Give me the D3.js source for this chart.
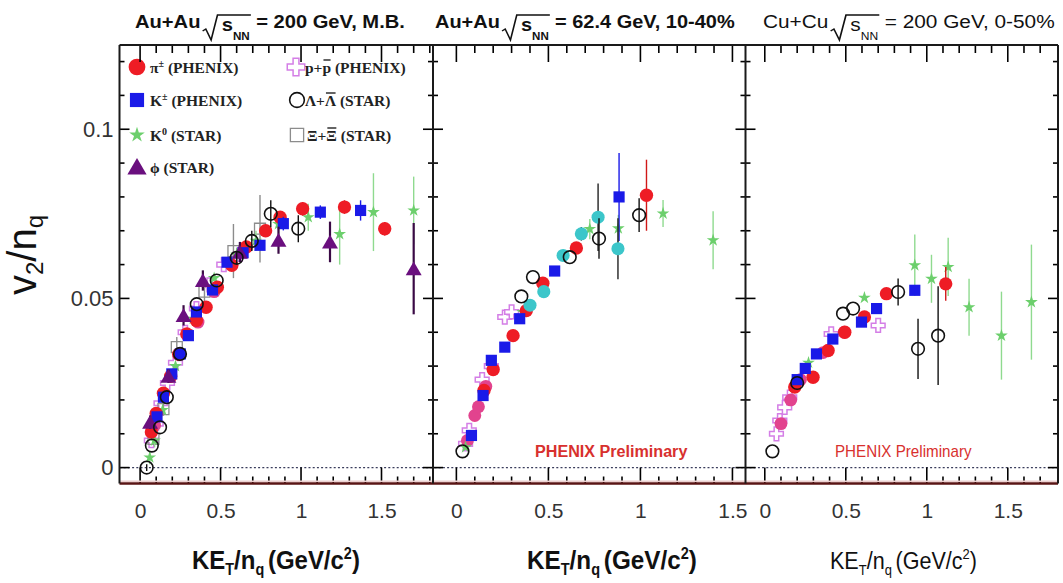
<!DOCTYPE html>
<html><head><meta charset="utf-8">
<script src="https://cdn.jsdelivr.net/npm/d3@7"></script>
<style>body{margin:0;background:#fff} svg{display:block}</style>
</head><body>
<svg id="c" width="1063" height="583"></svg>
<script>
// ---------------- DATA ([KE_T/n_q, v2/n_q, error]) ----------------
const xTickLabels = [0, 0.5, 1, 1.5];
const yTickLabels = [0, 0.05, 0.1];
const panelTitles = [
  ["Au+Au", "= 200 GeV, M.B."],
  ["Au+Au", "= 62.4 GeV, 10-40%"],
  ["Cu+Cu", "= 200 GeV, 0-50%"]
];
const prelimText = "PHENIX Preliminary";

// Panel 1: Au+Au 200 GeV M.B.
const au200Pi = [[0.07,0.0105,0],[0.10,0.016,0],[0.145,0.022,0],[0.19,0.027,0],[0.24,0.0335,0],[0.29,0.0395,0],[0.35,0.0435,0],[0.41,0.0474,0],[0.48,0.0533,0],[0.57,0.0598,0],[0.66,0.0652,0],[0.78,0.070,0],[0.87,0.074,0],[1.01,0.0765,0.002],[1.27,0.077,0.002],[1.52,0.0706,0.002]];
const au200K = [[0.105,0.015,0],[0.145,0.0208,0],[0.197,0.0277,0],[0.25,0.0336,0],[0.30,0.039,0],[0.35,0.046,0],[0.45,0.0525,0],[0.54,0.0607,0],[0.64,0.0635,0],[0.745,0.0657,0],[0.89,0.0721,0.002],[1.12,0.0755,0.002],[1.37,0.076,0.003]];
const au200K0 = [[0.06,0.003,0.002],[0.09,0.008,0.002],[0.14,0.017,0],[0.22,0.030,0],[0.33,0.044,0],[0.46,0.056,0],[0.60,0.063,0.002],[0.72,0.067,0.003],[0.86,0.072,0.003],[1.045,0.074,0.004],[1.24,0.069,0.009],[1.45,0.0755,0.0115],[1.70,0.076,0.010]];
const au200Phi = [[0.062,0.0134,0.002],[0.176,0.027,0.002],[0.27,0.045,0.003],[0.39,0.0553,0.003],[0.62,0.0637,0.003],[0.86,0.0672,0.004],[1.18,0.0667,0.006],[1.70,0.0588,0.0135]];
const au200Lam = [[0.041,0.0,0.001],[0.073,0.0065,0],[0.124,0.0119,0],[0.166,0.0208,0],[0.248,0.0336,0],[0.352,0.0483,0],[0.476,0.0553,0],[0.60,0.062,0.002],[0.694,0.067,0.003],[0.812,0.075,0.004],[0.983,0.0706,0.004]];
const au200Xi = [[0.083,0.0085,0],[0.145,0.0173,0.002],[0.228,0.0356,0.003],[0.40,0.052,0.004],[0.58,0.064,0.008],[0.745,0.0706,0.01]];
const au200P = [[0.07,0.008,0],[0.10,0.013,0],[0.13,0.019,0],[0.17,0.025,0],[0.22,0.031,0],[0.28,0.040,0],[0.35,0.047,0],[0.43,0.054,0],[0.52,0.060,0],[0.62,0.063,0]];
const au200Pink = [[0.09,0.0125,0],[0.36,0.043,0],[0.46,0.052,0]];

// Panel 2: Au+Au 62.4 GeV 10-40%
const au62Pi = [[0.15,0.0228,0],[0.20,0.029,0],[0.308,0.039,0],[0.38,0.0464,0],[0.47,0.0545,0],[0.652,0.0649,0],[1.033,0.0805,0.0105]];
const au62K = [[0.082,0.0095,0],[0.145,0.0213,0],[0.19,0.0317,0],[0.263,0.0356,0],[0.344,0.044,0],[0.534,0.0581,0],[0.884,0.080,0.013]];
const au62K0 = [[0.05,0.006,0],[0.36,0.046,0],[0.725,0.0705,0.003],[0.88,0.0707,0.004],[1.123,0.0751,0.004],[1.395,0.0672,0.0086]];
const au62Lam = [[0.033,0.0048,0],[0.353,0.0506,0],[0.416,0.0563,0],[0.616,0.0622,0],[0.775,0.0677,0.006],[0.993,0.0746,0.005]];
const au62Cyan = [[0.40,0.048,0],[0.475,0.052,0],[0.58,0.0627,0],[0.679,0.0691,0.002],[0.77,0.074,0.01],[0.878,0.0647,0.009]];
const au62Pink = [[0.06,0.008,0],[0.10,0.0154,0],[0.12,0.018,0],[0.16,0.024,0]];
const au62P = [[0.05,0.007,0],[0.07,0.011,0],[0.14,0.026,0],[0.19,0.030,0],[0.263,0.0445,0],[0.30,0.046,0]];

// Panel 3: Cu+Cu 200 GeV 0-50%
const cuPi = [[0.185,0.0238,0],[0.298,0.0267,0],[0.391,0.0346,0],[0.494,0.040,0],[0.615,0.0445,0],[0.751,0.0514,0],[1.117,0.0543,0.005]];
const cuK = [[0.20,0.026,0],[0.25,0.0293,0],[0.319,0.0336,0],[0.42,0.038,0],[0.597,0.043,0],[0.69,0.047,0],[0.926,0.0524,0]];
const cuK0 = [[0.27,0.031,0],[0.615,0.0502,0],[0.926,0.0598,0.0091],[1.029,0.0558,0.0071],[1.132,0.0593,0.0086],[1.261,0.0474,0.0084],[1.461,0.039,0.013],[1.646,0.0489,0.017]];
const cuLam = [[0.047,0.0048,0],[0.20,0.025,0],[0.483,0.0455,0],[0.545,0.047,0],[0.823,0.0519,0.004],[0.946,0.0351,0.0089],[1.07,0.039,0.0146]];
const cuP = [[0.072,0.010,0],[0.093,0.0139,0],[0.123,0.0178,0],[0.154,0.0208,0],[0.41,0.0395,0],[0.70,0.042,0]];
const cuPink = [[0.10,0.013,0],[0.16,0.020,0],[0.22,0.026,0],[0.36,0.034,0],[0.49,0.040,0]];

// ---------------- STYLES ----------------
const species = {
  p:    {sym: d3.symbolCross,    size: 105, fill: "#fff",    stroke: "#d47ee6", sw: 1.5, err: "#d47ee6"},
  xi:   {sym: d3.symbolSquare,   size: 120, fill: "none",    stroke: "#8c8c8c", sw: 1.3, err: "#8c8c8c"},
  pink: {sym: d3.symbolCircle,   size: 130, fill: "#e2438e", stroke: "none",    sw: 0,   err: "#e2438e"},
  K0:   {sym: d3.symbolStar,     size: 50,  fill: "#6ccf6c", stroke: "none",    sw: 0,   err: "#8fda8f"},
  pi:   {sym: d3.symbolCircle,   size: 140, fill: "#ee1c25", stroke: "none",    sw: 0,   err: "#d01818"},
  K:    {sym: d3.symbolSquare,   size: 125, fill: "#1a1ae8", stroke: "none",    sw: 0,   err: "#1a1ae8"},
  cyan: {sym: d3.symbolCircle,   size: 135, fill: "#3cc6ca", stroke: "none",    sw: 0,   err: "#222"},
  phi:  {sym: d3.symbolTriangle, size: 110, fill: "#6a0f7e", stroke: "none",    sw: 0,   err: "#3a0a45"},
  lam:  {sym: d3.symbolCircle,   size: 125, fill: "none",    stroke: "#111",    sw: 1.6, err: "#111"}
};
const drawOrder = ["p","xi","pink","K0","pi","K","cyan","phi","lam"];

const panels = [
  {left: 119.5, right: 433, xmin: -0.128, xmax: 1.82,
   data: {pi: au200Pi, K: au200K, K0: au200K0, phi: au200Phi, lam: au200Lam, xi: au200Xi, p: au200P, pink: au200Pink},
   titleX: 135, titleW: 270, bold: true, xl: {x: 192, w: 168, bold: true}, prelim: null},
  {left: 433, right: 745.5, xmin: -0.127, xmax: 1.571,
   data: {pi: au62Pi, K: au62K, K0: au62K0, lam: au62Lam, cyan: au62Cyan, pink: au62Pink, p: au62P},
   titleX: 435, titleW: 300, bold: true, xl: {x: 527, w: 170, bold: true}, prelim: {x: 535, w: 153, bold: true}},
  {left: 745.5, right: 1058, xmin: -0.119, xmax: 1.81,
   data: {pi: cuPi, K: cuK, K0: cuK0, lam: cuLam, p: cuP, pink: cuPink},
   titleX: 763, titleW: 292, bold: false, xl: {x: 830, w: 147, bold: false}, prelim: {x: 835, w: 137, bold: false}}
];

const TOP = 45, BOT = 483.5;
const svg = d3.select("#c");
svg.append("rect").attr("width",1063).attr("height",583).attr("fill","#fff");

const y = d3.scaleLinear().domain([-0.0047, 0.1249]).range([BOT, TOP]);
const yMinor = d3.range(0, 0.1201, 0.01);
const xMinor = d3.range(0, 1.81, 0.1);

function fitGroup(g, x0, width, baseY) {
  const bb = g.node().getBBox();
  const s = bb.width > 0 ? width / bb.width : 1;
  g.attr("transform", `translate(${x0 - bb.x * s},${baseY}) scale(${s},1)`);
}

const xScales = panels.map(P => d3.scaleLinear().domain([P.xmin, P.xmax]).range([P.left, P.right]));

// zero dotted line
svg.append("line").attr("x1", 119.5).attr("x2", 1058).attr("y1", y(0)).attr("y2", y(0))
  .attr("stroke", "#3a3d5c").attr("stroke-width", 1.2).attr("stroke-dasharray", "2,2.2");

panels.forEach((P, pi) => {
  const x = xScales[pi];
  const g = svg.append("g");

  const lab = g.append("g").attr("transform",`translate(0,${BOT})`)
    .call(d3.axisBottom(x).tickValues(xTickLabels).tickSize(0).tickPadding(20).tickFormat(d3.format("")));
  lab.select(".domain").remove();
  lab.selectAll("text").attr("font-family","Liberation Sans, Arial, sans-serif").attr("font-size",21).attr("fill","#333");
  if (pi === 0) {
    const yl = g.append("g").attr("transform",`translate(${P.left},0)`)
      .call(d3.axisLeft(y).tickValues(yTickLabels).tickSize(0).tickPadding(6).tickFormat(d3.format("")));
    yl.select(".domain").remove();
    yl.selectAll("text").attr("font-family","Liberation Sans, Arial, sans-serif").attr("font-size",22).attr("fill","#333");
  }

  if (P.prelim) {
    const pg = svg.append("g");
    pg.append("text").attr("font-family","Liberation Sans, Arial, sans-serif").attr("font-size",17)
      .attr("font-weight", P.prelim.bold ? "bold" : "normal").attr("fill","#d8302e").text(prelimText);
    fitGroup(pg, P.prelim.x, P.prelim.w, 457);
  }

  const dg = svg.append("g");
  drawOrder.forEach(k => {
    const arr = P.data[k];
    if (!arr) return;
    const st = species[k];
    dg.append("g").selectAll("line").data(arr.filter(d => d[2] > 0)).join("line")
      .attr("x1", d => x(d[0])).attr("x2", d => x(d[0]))
      .attr("y1", d => y(d[1] - d[2])).attr("y2", d => y(d[1] + d[2]))
      .attr("stroke", st.err).attr("stroke-width", k === "phi" ? 2.2 : 1.4);
    const sym = d3.symbol().type(st.sym).size(st.size);
    dg.append("g").selectAll("path").data(arr).join("path")
      .attr("d", sym).attr("transform", d => `translate(${x(d[0])},${y(d[1]) + (k === "phi" ? 2 : 0)})`)
      .attr("fill", st.fill).attr("stroke", st.stroke).attr("stroke-width", st.sw);
  });

  const tg = svg.append("g");
  const t = tg.append("text").attr("font-family","Liberation Sans, Arial, sans-serif").attr("font-size",19)
    .attr("font-weight", P.bold ? "bold" : "normal").attr("fill","#111");
  const pre = panelTitles[pi][0];
  t.append("tspan").text(pre);
  t.append("tspan").attr("dx", 20).attr("dy", 3).text("s");
  t.append("tspan").attr("font-size", 11).attr("dy", 9).text("NN");
  t.append("tspan").attr("dx", 6).attr("dy", -12).text(panelTitles[pi][1]);
  const n = t.node();
  const sx = n.getStartPositionOfChar(pre.length).x;
  const ex = n.getEndPositionOfChar(pre.length + 2).x;
  tg.append("path").attr("d", `M${sx-18},3 L${sx-15},1 L${sx-10},12 L${sx-4},-13 H${ex+1}`)
    .attr("fill","none").attr("stroke","#111").attr("stroke-width",1.5);
  fitGroup(tg, P.titleX, P.titleW, 28);

  const xg = svg.append("g");
  const xt = xg.append("text").attr("font-family","Liberation Sans, Arial, sans-serif").attr("font-size", P.xl.bold ? 26 : 24)
    .attr("font-weight", P.xl.bold ? "bold" : "normal").attr("fill","#111");
  xt.append("tspan").text("KE");
  xt.append("tspan").attr("font-size","0.6em").attr("dy",6).text("T");
  xt.append("tspan").attr("dy",-6).text("/n");
  xt.append("tspan").attr("font-size","0.6em").attr("dy",6).text("q");
  xt.append("tspan").attr("dy",-6).attr("dx",4).text("(GeV/c");
  xt.append("tspan").attr("font-size","0.6em").attr("dy",-10).text("2");
  xt.append("tspan").attr("dy",10).text(")");
  fitGroup(xg, P.xl.x, P.xl.w, 569);
});

// y axis title v_2/n_q
const yg = svg.append("g").attr("transform","translate(36,255) rotate(-90)");
const yt = yg.append("text").attr("font-family","Liberation Sans, Arial, sans-serif").attr("font-size",40)
  .attr("fill","#111").attr("text-anchor","middle");
yt.append("tspan").text("v");
yt.append("tspan").attr("font-size",24).attr("dy",7).text("2");
yt.append("tspan").attr("dy",-7).text("/n");
yt.append("tspan").attr("font-size",24).attr("dy",7).text("q");

// legend
const legendKeys = ["pi","K","K0","phi","p","lam","xi"];
const legendPos = [[137,67,150],[137,100,150],[137,135,150],[137,167,150],[296,67,305],[297,100,305],[297,135,307]];
const legendText = [
  [["π"],["±","sup"],[" (PHENIX)"]],
  [["K"],["±","sup"],[" (PHENIX)"]],
  [["K"],["0","sup"],[" (STAR)"]],
  [["ϕ (STAR)"]],
  [["p+"],["p","bar"],[" (PHENIX)"]],
  [["Λ+"],["Λ","bar"],[" (STAR)"]],
  [["Ξ+"],["Ξ","bar"],[" (STAR)"]]
];
const legendSize = {pi:220, K:200, K0:75, phi:160, p:170, lam:170, xi:175};
const lg = svg.append("g");
legendKeys.forEach((k, i) => {
  const [mx, my, tx] = legendPos[i];
  const st = species[k];
  lg.append("path").attr("d", d3.symbol().type(st.sym).size(legendSize[k]))
    .attr("transform", `translate(${mx},${my + (k === "phi" ? 2 : 0)})`)
    .attr("fill", st.fill).attr("stroke", st.stroke).attr("stroke-width", st.sw);
  const t = lg.append("text").attr("x", tx).attr("y", my + 6).attr("font-family","Liberation Serif, Times New Roman, serif")
    .attr("font-weight","bold").attr("font-size",15.5).attr("fill","#222");
  let idx = 0; const bars = []; let prevSup = false;
  legendText[i].forEach(([s, mode]) => {
    const ts = t.append("tspan").text(s);
    if (mode === "sup") ts.attr("font-size",10).attr("dy",-6);
    else if (prevSup) ts.attr("dy",6);
    prevSup = mode === "sup";
    if (mode === "bar") bars.push(idx);
    idx += s.length;
  });
  bars.forEach(ci => {
    const e = t.node().getExtentOfChar(ci);
    lg.append("line").attr("x1", e.x + 1).attr("x2", e.x + e.width - 0.5)
      .attr("y1", my - 7).attr("y2", my - 7).attr("stroke","#222").attr("stroke-width",1.4);
  });
});

// ---------- ticks and frame, drawn last ----------
const tickLayer = svg.append("g").attr("stroke","#000").attr("stroke-width",1.6).attr("fill","none");
panels.forEach((P, i) => {
  const x = xScales[i];
  const xm = xMinor.filter(v => x(v) < P.right - 2);
  const isMajorX = v => xTickLabels.some(t => Math.abs(t - v) < 1e-6);
  const isMajorY = v => yTickLabels.some(t => Math.abs(t - v) < 1e-6);
  tickLayer.append("g").selectAll("line").data(xm).join("line")
    .attr("x1", d => x(d)).attr("x2", d => x(d)).attr("y1", BOT).attr("y2", d => BOT - (isMajorX(d) ? 16 : 7));
  tickLayer.append("g").selectAll("line").data(xm).join("line")
    .attr("x1", d => x(d)).attr("x2", d => x(d)).attr("y1", TOP).attr("y2", d => TOP + (isMajorX(d) ? 17 : 8));
  tickLayer.append("g").selectAll("line").data(yMinor).join("line")
    .attr("y1", d => y(d)).attr("y2", d => y(d)).attr("x1", P.left).attr("x2", d => P.left + (isMajorY(d) ? 10 : 5));
  tickLayer.append("g").selectAll("line").data(yMinor).join("line")
    .attr("y1", d => y(d)).attr("y2", d => y(d)).attr("x1", P.right).attr("x2", d => P.right - (isMajorY(d) ? 10 : 5));
});
const fr = svg.append("g").attr("fill","none");
fr.append("line").attr("x1",119.5).attr("x2",1058).attr("y1",TOP).attr("y2",TOP).attr("stroke","#1a1a1a").attr("stroke-width",2);
fr.append("line").attr("x1",119.5).attr("x2",1058).attr("y1",BOT-2.3).attr("y2",BOT-2.3).attr("stroke","#ecd0d0").attr("stroke-width",1.6);
fr.append("line").attr("x1",119.5).attr("x2",1058).attr("y1",BOT).attr("y2",BOT).attr("stroke","#5a1414").attr("stroke-width",2.6);
[119.5, 433, 745.5, 1058].forEach(v => {
  fr.append("line").attr("x1",v).attr("x2",v).attr("y1",TOP).attr("y2",BOT).attr("stroke","#1a1a1a").attr("stroke-width",2);
});
</script>
</body></html>
